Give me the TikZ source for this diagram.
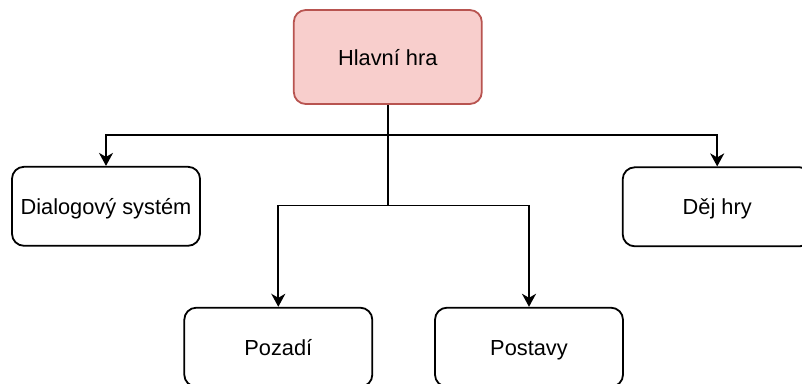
\documentclass[tikz,border=0pt]{standalone}
\usepackage{fontspec}
\setmainfont{Liberation Sans}
\usetikzlibrary{arrows.meta}
\definecolor{mainfill}{HTML}{F8CECC}
\definecolor{maindraw}{HTML}{B85450}
\begin{document}
\begin{tikzpicture}[x=1pt,y=-1pt,
  box/.style={draw=black, line width=1.8pt, rounded corners=12pt, fill=white,
    minimum width=188pt, minimum height=79pt, inner sep=0pt,
    text height=20pt, text depth=4pt,
    font=\fontsize{21.8}{26}\selectfont},
  mainbox/.style={box, draw=maindraw, fill=mainfill, minimum height=94pt},
  conn/.style={draw=black, line width=1.9pt, -{Stealth[length=13pt,width=14pt,inset=4pt]}}]
  \useasboundingbox (0,0) rectangle (802,383);
  % boxes
  \node[mainbox] (main) at (387.8,57) {Hlavní hra};
  \node[box] (dialog) at (106,206.3) {Dialogový systém};
  \node[box, minimum width=189pt] (dej) at (717.2,206.8) {Děj hry};
  \node[box] (pozadi) at (278.3,347.2) {Pozadí};
  \node[box] (postavy) at (529,347.2) {Postavy};
  % junction points on the trunk
  \coordinate (j1) at (387.8,135);
  \coordinate (j2) at (387.8,205.5);
  % connectors
  \draw[conn] (main.south) -- (j1) -| (dialog.north);
  \draw[conn] (j1) -| (dej.north);
  \draw[conn] (j1) -- (j2) -| (pozadi.north);
  \draw[conn] (j2) -| (postavy.north);
\end{tikzpicture}
\end{document}
